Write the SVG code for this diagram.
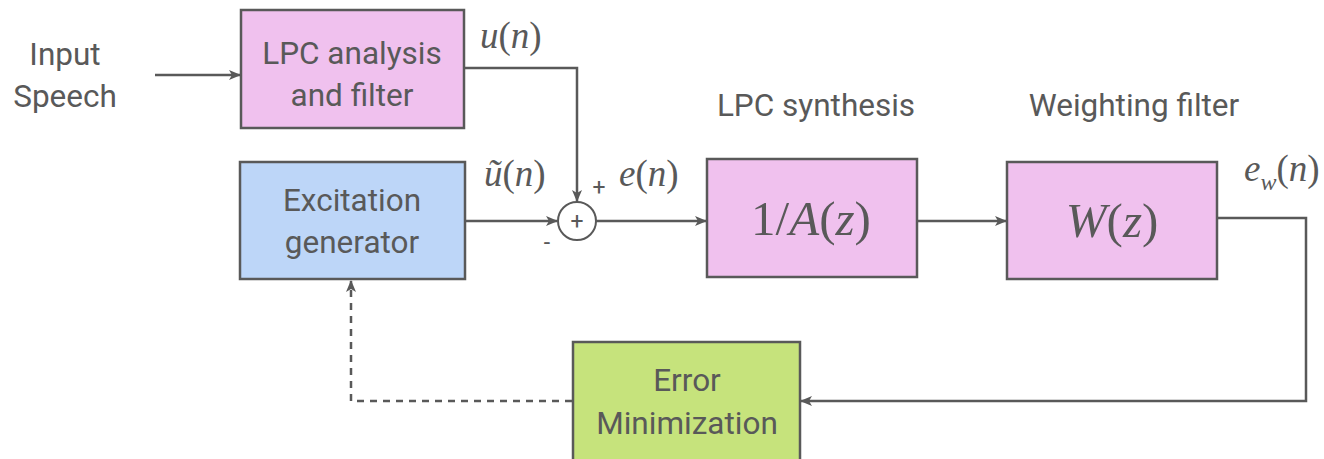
<svg xmlns="http://www.w3.org/2000/svg" width="1324" height="459" viewBox="0 0 1324 459">
  <defs>
    <marker id="arrow" viewBox="0 0 12 10" refX="11" refY="5" markerWidth="12" markerHeight="10" markerUnits="userSpaceOnUse" orient="auto">
      <path d="M0,0 L12,5 L0,10 L3,5 Z" fill="#595959"/>
    </marker>
  </defs>
  <style>
    .box { stroke: #595959; stroke-width: 2.5; }
    .pink { fill: #F0C1EE; }
    .blue { fill: #BDD6F8; }
    .green { fill: #C6E37C; }
    .lbl { font-family: Roboto, "Open Sans", "Liberation Sans", sans-serif; font-size: 31.5px; fill: #595959; text-anchor: middle; }
    .math { font-family: "Liberation Serif", "DejaVu Serif", serif; font-style: italic; font-size: 37px; fill: #595959; }
    .mathbig { font-family: "Liberation Serif", "DejaVu Serif", serif; font-size: 49px; fill: #595959; text-anchor: middle; }
    .wire { fill: none; stroke: #595959; stroke-width: 2.5; }
    .dash { stroke-dasharray: 7 6; }
    .sign { font-family: Roboto, "Liberation Sans", sans-serif; font-size: 23px; fill: #595959; text-anchor: middle; }
  </style>

  <rect width="1324" height="459" fill="#ffffff"/>

  <!-- source label -->
  <g id="input-speech">
    <text class="lbl" x="65" y="65">Input</text>
    <text class="lbl" x="65" y="107">Speech</text>
  </g>

  <g id="lpc-analysis">
    <rect class="box pink" x="241" y="10" width="223" height="118"/>
    <text class="lbl" x="352" y="64">LPC analysis</text>
    <text class="lbl" x="352" y="106">and filter</text>
  </g>

  <g id="excitation-generator">
    <rect class="box blue" x="240" y="162" width="225" height="117"/>
    <text class="lbl" x="352" y="211">Excitation</text>
    <text class="lbl" x="352" y="253">generator</text>
  </g>

  <g id="summing-junction">
    <circle cx="577" cy="221" r="19" fill="#ffffff" stroke="#595959" stroke-width="2"/>
    <text class="sign" x="577" y="229">+</text>
    <text class="sign" x="599" y="195">+</text>
    <text class="sign" x="547" y="250">-</text>
  </g>

  <g id="lpc-synthesis">
    <text class="lbl" x="816" y="116">LPC synthesis</text>
    <rect class="box pink" x="707" y="159" width="210" height="118"/>
    <text class="mathbig" x="811" y="235">1/<tspan font-style="italic">A</tspan>(<tspan font-style="italic">z</tspan>)</text>
  </g>

  <g id="weighting-filter">
    <text class="lbl" x="1134" y="116">Weighting filter</text>
    <rect class="box pink" x="1007" y="162" width="210" height="117"/>
    <text class="mathbig" x="1112" y="237"><tspan font-style="italic">W</tspan>(<tspan font-style="italic">z</tspan>)</text>
  </g>

  <g id="error-minimization">
    <rect class="box green" x="573" y="342" width="227" height="130"/>
    <text class="lbl" x="687" y="391">Error</text>
    <text class="lbl" x="687" y="434">Minimization</text>
  </g>

  <!-- signal labels -->
  <g id="signal-labels">
    <text class="math" x="480" y="48">u<tspan font-style="normal">(</tspan>n<tspan font-style="normal">)</tspan></text>
    <text class="math" x="484" y="186">ũ<tspan font-style="normal">(</tspan>n<tspan font-style="normal">)</tspan></text>
    <text class="math" x="619" y="186">e<tspan font-style="normal">(</tspan>n<tspan font-style="normal">)</tspan></text>
    <text class="math" x="1244" y="181">e<tspan font-size="24" dy="9">w</tspan><tspan font-style="normal" dy="-9">(</tspan>n<tspan font-style="normal">)</tspan></text>
  </g>

  <g id="connectors">
    <line class="wire" x1="155" y1="75" x2="240" y2="75" marker-end="url(#arrow)"/>
    <polyline class="wire" points="464,68 577,68 577,201" marker-end="url(#arrow)"/>
    <line class="wire" x1="465" y1="221" x2="557" y2="221" marker-end="url(#arrow)"/>
    <line class="wire" x1="596" y1="221" x2="706" y2="221" marker-end="url(#arrow)"/>
    <line class="wire" x1="917" y1="221" x2="1006" y2="221" marker-end="url(#arrow)"/>
    <polyline class="wire" points="1217,218 1306,218 1306,401 801,401" marker-end="url(#arrow)"/>
    <polyline class="wire dash" points="572,401 351,401 351,281" marker-end="url(#arrow)"/>
  </g>
</svg>
